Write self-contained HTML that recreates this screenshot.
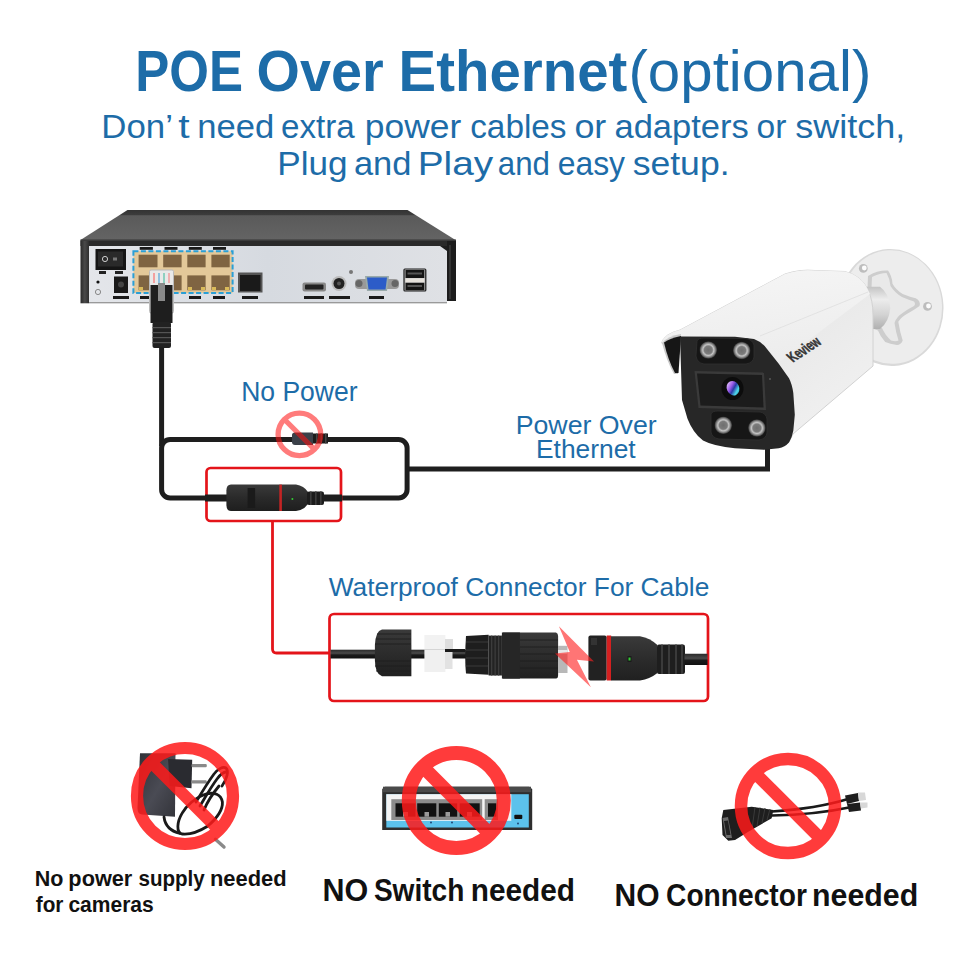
<!DOCTYPE html>
<html><head><meta charset="utf-8">
<style>
html,body{margin:0;padding:0;background:#fff;}
body{width:960px;height:960px;overflow:hidden;position:relative;}
svg{position:absolute;left:0;top:0;}
text{font-family:"Liberation Sans",sans-serif;}
</style></head>
<body>
<svg width="960" height="960" viewBox="0 0 960 960">
<defs>
  <linearGradient id="nvrTop" x1="0" y1="0" x2="0" y2="1">
    <stop offset="0" stop-color="#333"/><stop offset="0.16" stop-color="#3c3c3c"/><stop offset="0.19" stop-color="#5a5a5a"/><stop offset="0.6" stop-color="#5f5f5f"/><stop offset="1" stop-color="#646464"/>
  </linearGradient>
  <linearGradient id="nvrFront" x1="0" y1="0" x2="1" y2="0">
    <stop offset="0" stop-color="#e4e6ea"/><stop offset="0.5" stop-color="#d6dae0"/><stop offset="1" stop-color="#dfe1e5"/>
  </linearGradient>
  <linearGradient id="bezL" x1="0" y1="0" x2="1" y2="0">
    <stop offset="0" stop-color="#2a2a2a"/><stop offset="0.5" stop-color="#4a4a4a"/><stop offset="1" stop-color="#2e2e2e"/>
  </linearGradient>
  <linearGradient id="camTop" x1="0" y1="0" x2="1" y2="1">
    <stop offset="0" stop-color="#f2f2f2"/><stop offset="1" stop-color="#e8e8e8"/>
  </linearGradient>
  <radialGradient id="lens" cx="0.45" cy="0.45" r="0.6">
    <stop offset="0" stop-color="#e0d0ff"/><stop offset="0.35" stop-color="#7a4fd0"/><stop offset="0.7" stop-color="#2a3a8a"/><stop offset="1" stop-color="#111"/>
  </radialGradient>
  <radialGradient id="led" cx="0.5" cy="0.5" r="0.5">
    <stop offset="0" stop-color="#6e6e6e"/><stop offset="0.45" stop-color="#7c7c7c"/><stop offset="0.62" stop-color="#c4c4c4"/><stop offset="0.78" stop-color="#8e8e8e"/><stop offset="0.9" stop-color="#5a5a5a"/><stop offset="1" stop-color="#2a2a2a"/>
  </radialGradient>
</defs>

<!-- ===== TITLE ===== -->

<!-- ===== NVR ===== -->
<polygon points="127.5,210 407.5,210 455.5,240 80.5,240" fill="url(#nvrTop)"/>
<rect x="80.5" y="239.7" width="375.5" height="6.3" fill="#2a2a2a"/>
<rect x="80.5" y="239.7" width="375.5" height="1" fill="#444"/>
<rect x="80.5" y="241" width="8.5" height="62.3" fill="url(#bezL)"/>
<rect x="447" y="241" width="9" height="60" fill="#1c1c1c"/>
<rect x="449" y="245" width="2" height="54" fill="#333"/>
<rect x="89" y="246" width="358" height="57.3" fill="url(#nvrFront)"/>
<polygon points="440,246 447,246 447,251" fill="#1e1e1e"/>
<rect x="89" y="302" width="358" height="1.3" fill="#9a9a9a"/>
<!-- switch -->
<rect x="95.5" y="249" width="30.5" height="21" fill="#151515"/>
<rect x="98" y="251.5" width="25" height="15" fill="#2a2a2a"/>
<circle cx="105" cy="259" r="2.6" fill="none" stroke="#ccc" stroke-width="1"/>
<rect x="113" y="257.5" width="4" height="3" fill="#777"/>
<rect x="99" y="271" width="7" height="3" fill="#222"/><rect x="115" y="271" width="8" height="3" fill="#222"/>
<!-- power jack -->
<rect x="114" y="276.5" width="14" height="16.5" fill="#1a1a1a"/>
<circle cx="121" cy="284.5" r="3" fill="#444"/>
<rect x="113" y="296" width="16" height="3" fill="#1a1a1a"/>
<circle cx="98" cy="282" r="1.6" fill="#111"/>
<circle cx="98" cy="292" r="2.6" fill="none" stroke="#888" stroke-width="1"/>
<!-- ports block -->
<rect x="133.4" y="251.3" width="99.2" height="41.8" fill="#e3c899" stroke="#2a9fd6" stroke-width="2" stroke-dasharray="5 2.5"/>
<g fill="#7f6442">
  <rect x="138.6" y="254.7" width="18.9" height="12.6"/><rect x="163.2" y="254.7" width="18.4" height="12.6"/><rect x="187.3" y="254.7" width="18.3" height="12.6"/><rect x="211.4" y="254.7" width="18.3" height="12.6"/>
  <rect x="138.6" y="275.4" width="18.9" height="14.9"/><rect x="163.2" y="275.4" width="18.4" height="14.9"/><rect x="187.3" y="275.4" width="18.3" height="14.9"/><rect x="211.4" y="275.4" width="18.3" height="14.9"/>
</g>
<g fill="#f0d060" opacity="0.8">
  <rect x="139" y="287" width="4" height="3"/><rect x="153" y="287" width="4" height="3"/><rect x="188" y="287" width="4" height="3"/><rect x="201" y="287" width="4" height="3"/><rect x="212" y="287" width="4" height="3"/><rect x="225" y="287" width="4" height="3"/>
</g>
<g fill="#1a1a1a">
  <rect x="139.7" y="247" width="13.2" height="2.8"/><rect x="164.5" y="247" width="13" height="2.8"/><rect x="188.8" y="247" width="13" height="2.8"/><rect x="213" y="247" width="13" height="2.8"/>
  <rect x="140" y="296" width="12" height="3"/><rect x="189" y="296" width="12" height="3"/><rect x="213" y="296" width="12" height="3"/>
</g>
<!-- LAN -->
<rect x="238" y="272.5" width="24.5" height="20" fill="#555"/>
<rect x="240" y="275" width="20.5" height="16" fill="#1a1a1a"/>
<rect x="242" y="296" width="16" height="3" fill="#1a1a1a"/>
<!-- HDMI -->
<rect x="302.5" y="282.5" width="23.5" height="9" rx="2" fill="#888"/>
<rect x="305" y="284.5" width="18.5" height="5" rx="1" fill="#222"/>
<rect x="304" y="296" width="20" height="3" fill="#1a1a1a"/>
<!-- audio -->
<circle cx="339" cy="283.5" r="7.5" fill="#bbb"/>
<circle cx="339" cy="283.5" r="5.5" fill="#222"/>
<circle cx="339" cy="283.5" r="2" fill="#555"/>
<circle cx="351" cy="272" r="2" fill="#777"/>
<rect x="329" y="296" width="21" height="3" fill="#1a1a1a"/>
<!-- VGA -->
<rect x="355" y="279" width="44" height="10" rx="4" fill="#999"/>
<circle cx="359" cy="283.5" r="3.5" fill="#666"/><circle cx="395" cy="283.5" r="3.5" fill="#666"/>
<polygon points="365,276 389,276 387,291 367,291" fill="#9aa"/>
<polygon points="367,277.5 387,277.5 385.5,289.5 368.5,289.5" fill="#2c5cc8"/>
<rect x="369" y="296" width="15" height="3" fill="#1a1a1a"/>
<!-- USB -->
<rect x="403.4" y="268.5" width="23" height="23" rx="1.5" fill="#1a1a1a"/>
<rect x="404.6" y="269.5" width="20.6" height="21" fill="#bbb"/>
<rect x="405.5" y="270" width="18.8" height="8" fill="#141414"/>
<rect x="405.5" y="282.7" width="18.8" height="7.5" fill="#141414"/>
<rect x="405.5" y="278.3" width="18.8" height="4" fill="#e6e2dc"/>
<rect x="407.5" y="272.5" width="14.5" height="2" fill="#555"/>
<rect x="407.5" y="285" width="14.5" height="2" fill="#555"/>
<!-- RJ45 plug -->
<rect x="149.5" y="270" width="24" height="43" rx="1.5" fill="#e9e9e9" stroke="#bbb" stroke-width="1"/>
<rect x="153" y="273" width="2" height="10" fill="#f3a0a0"/><rect x="158" y="273" width="2" height="10" fill="#8fc0e0"/><rect x="163" y="273" width="2" height="10" fill="#8fd0c0"/><rect x="168" y="273" width="2" height="10" fill="#f0b0b0"/>
<rect x="150.5" y="285" width="22" height="38" fill="#1e1e1e"/>
<rect x="158" y="283" width="7" height="18" fill="#8a8a8a"/>
<rect x="152.5" y="322" width="18.5" height="26" rx="2" fill="#222"/>
<g fill="#555"><rect x="152.5" y="327" width="18.5" height="1.2"/><rect x="152.5" y="332" width="18.5" height="1.2"/><rect x="152.5" y="337" width="18.5" height="1.2"/><rect x="152.5" y="342" width="18.5" height="1.2"/></g>

<!-- ===== LINES ===== -->
<g fill="none" stroke="#1e1e1e" stroke-width="5">
  <line x1="161.6" y1="347" x2="161.6" y2="446"/>
  <rect x="161.6" y="439.5" width="245.5" height="58.5" rx="8.5"/>
  <polyline points="407,469 767.5,469 767.5,446"/>
</g>

<!-- No Power text -->
<!-- small connector on top line -->
<path d="M292,435 Q292,432.5 295,432.5 L313,432.5 L313,445 L295,445 Q292,445 292,442 Z" fill="#3b4049"/>
<rect x="313" y="433.5" width="15" height="10" fill="#1c1c1c"/>
<g fill="#444"><rect x="316" y="433.5" width="1.5" height="10"/><rect x="320.5" y="433.5" width="1.5" height="10"/><rect x="325" y="433.5" width="1.5" height="10"/></g>
<!-- pink prohibition -->
<g opacity="0.55">
<circle cx="299.4" cy="434.4" r="21.3" fill="none" stroke="#ff1010" stroke-width="5.3"/>
<line x1="285" y1="420" x2="314" y2="449" stroke="#ff1010" stroke-width="5.3"/>
</g>

<!-- red box 1 -->
<rect x="206.5" y="468" width="134.5" height="53" rx="4" fill="none" stroke="#e4141a" stroke-width="2.7"/>
<path d="M272.5,521 V649 Q272.5,653 276.5,653 H329" fill="none" stroke="#e4141a" stroke-width="2.8"/>
<!-- connector in box 1 -->
<linearGradient id="conn" x1="0" y1="0" x2="0" y2="1"><stop offset="0" stop-color="#3a3a3a"/><stop offset="0.5" stop-color="#2a2a2a"/><stop offset="1" stop-color="#1e1e1e"/></linearGradient>
<rect x="205" y="494.5" width="22" height="7" fill="#1e1e1e"/>
<path d="M231,484.6 L296,484.6 Q304,486 308,492 L308,504 Q304,510 296,511 L231,511 Q226.4,511 226.4,505 L226.4,490.6 Q226.4,484.6 231,484.6 Z" fill="url(#conn)"/>
<rect x="247.6" y="488" width="7.5" height="20" fill="#1a1a1a"/>
<rect x="279.3" y="484.6" width="2.6" height="26.4" fill="#c42424"/>
<circle cx="292.4" cy="499" r="1" fill="#3c3"/>
<rect x="307" y="491.4" width="17" height="13.6" rx="2" fill="#1c1c1c"/>
<g fill="#3c3c3c"><rect x="310" y="491.4" width="1.6" height="13.6"/><rect x="315" y="491.4" width="1.6" height="13.6"/><rect x="320" y="491.4" width="1.6" height="13.6"/></g>
<rect x="323" y="494.5" width="19" height="7" fill="#1e1e1e"/>

<!-- Power Over Ethernet -->

<!-- ===== CAMERA ===== -->
<!-- mount base plate -->
<ellipse cx="891" cy="307.5" rx="52.5" ry="58.5" transform="rotate(-3 891 307.5)" fill="#d9d9d9"/>
<ellipse cx="891.5" cy="307" rx="50.5" ry="56.8" transform="rotate(-3 891.5 307)" fill="#ededed"/>
<circle cx="863.3" cy="268.4" r="4.4" fill="#bdbdbd"/><circle cx="864.3" cy="268" r="2.4" fill="#fcfcfc"/>
<circle cx="927.5" cy="306.4" r="4.4" fill="#bdbdbd"/><circle cx="928.5" cy="306" r="2.4" fill="#fcfcfc"/>
<!-- star bracket -->
<path d="M868,276 Q878,270 888,270.6 Q892,276 892.5,283.75 Q896,290 902.7,294 Q910,297 915.8,298.3 Q921,301 919.5,306 Q914,310 908.5,313 Q901,317 898.3,321.7 Q900,332 902.7,340.6 Q901,345 896.9,345 Q890,344 885.2,342 Q880,336 878,330.4 L866,326 Z" fill="#cdcdcd"/>
<path d="M872,277 Q880,273 886.5,273 Q890,279 890.5,286 Q895,293 902,297 Q909,300 914,301.5 Q916,304 914,306 Q908,309 904,312 Q896,317 894.5,323 Q896,333 898.5,340.5 Q896,342 891,340.5 Q885,335 882,328 L870,322 Z" fill="#e9e9e9"/>
<!-- arm cylinder -->
<linearGradient id="arm" x1="0" y1="0" x2="0" y2="1"><stop offset="0" stop-color="#c4c4c4"/><stop offset="0.3" stop-color="#ececec"/><stop offset="0.65" stop-color="#d4d4d4"/><stop offset="1" stop-color="#b0b0b0"/></linearGradient>
<path d="M860,286.7 L880,286.7 Q889,293 890.3,308 Q889,322 880,329 L860,329 Z" fill="url(#arm)"/>
<!-- body -->
<linearGradient id="bodyTop" x1="0" y1="0" x2="0.3" y2="1"><stop offset="0" stop-color="#f6f6f6"/><stop offset="1" stop-color="#ededed"/></linearGradient>
<linearGradient id="bodySide" x1="0" y1="0" x2="1" y2="1"><stop offset="0" stop-color="#f2f2f2"/><stop offset="0.5" stop-color="#e9e9e9"/><stop offset="1" stop-color="#f3f3f3"/></linearGradient>
<path d="M661.5,343 Q664,334 680,330 L785,274 Q800,269 815,270.5 L845,271.5 Q862,276 868,290 Q873,300 873,315 L873,366 L793,434 L789,442 L760,350 Z" fill="url(#bodySide)" stroke="#d2d2d2" stroke-width="1"/>
<path d="M661.5,343 Q664,334 680,330 L785,274 Q800,269 815,270.5 L845,271.5 Q862,276 868,290 L870,294 L778,363 Q768,345 754,339 L700,336 Z" fill="url(#bodyTop)"/>
<path d="M760,336 L868,292" stroke="#e2e2e2" stroke-width="1"/>
<!-- hood inner -->
<path d="M662,343 Q668,336 681,334 L678,374 L674,374 Q667,362 662,343 Z" fill="#c8c8c8"/>
<path d="M664,342.5 Q670,338 681,336 L678.5,373 L675,373 Q668,360 664,342.5 Z" fill="#161616"/>
<!-- face -->
<path d="M680,336.5 L735,336.8 L754,339 Q762,342 767,349 L778.75,363.75 L789,378.3 Q792,384 793.3,393 L794.8,414.8 L793.3,430.8 Q792,438 789,442.5 Q785,447 778.75,448.3 L764.2,449.8 L735,448.2 Q714,446.5 703,440.6 Q693,433 687.5,418.75 L682,400 Z" fill="#272727"/>
<!-- top LED recess -->
<path d="M697,341 Q698,338 704,338 L745,338.5 Q752,339 754,345 L754,357 Q753,363 746,364 L704,364 Q697,363 696,356 Z" fill="#161616" stroke="#303030" stroke-width="0.8"/>
<circle cx="708.3" cy="350" r="8.8" fill="url(#led)"/>
<circle cx="741.7" cy="350.5" r="8.8" fill="url(#led)"/>
<!-- lens window -->
<polygon points="694.5,371 764,372.5 766,410 698.5,408" fill="#3a3a3a"/>
<polygon points="697,373.5 762,375 763.5,407.5 700.5,405.5" fill="#1c1c1c"/>
<ellipse cx="732.5" cy="388.5" rx="11" ry="11.5" fill="#0c0c0c"/>
<linearGradient id="gem" x1="0.2" y1="0" x2="0.8" y2="1"><stop offset="0" stop-color="#e6c8ff"/><stop offset="0.35" stop-color="#9a5ae8"/><stop offset="0.55" stop-color="#2a3aa8"/><stop offset="0.8" stop-color="#50d8e8"/><stop offset="1" stop-color="#2aa0c0"/></linearGradient>
<ellipse cx="733" cy="388.2" rx="6.2" ry="7.4" transform="rotate(-25 733 388.2)" fill="url(#gem)"/>
<!-- bottom LED recess -->
<path d="M711,414 Q712,411 718,411 L760,412 Q766,413 767,419 L767,433 Q766,439 759,440 L719,439 Q712,438 711,432 Z" fill="#161616" stroke="#303030" stroke-width="0.8"/>
<circle cx="723.3" cy="425.3" r="8.8" fill="url(#led)"/>
<circle cx="756.9" cy="428" r="8.8" fill="url(#led)"/>
<circle cx="770" cy="379" r="1.1" fill="#555"/>
<!-- Keview -->
<text x="0" y="0" font-size="15" font-weight="bold" fill="#353535" stroke="#353535" stroke-width="0.5" transform="translate(793,362.5) rotate(-33) skewX(14)" textLength="35" lengthAdjust="spacingAndGlyphs" style="text-rendering:geometricPrecision">Keview</text>

<!-- ===== WATERPROOF ===== -->
<rect x="329.5" y="614" width="378.5" height="87" rx="4.5" fill="none" stroke="#e4141a" stroke-width="2.7"/>
<!-- cable -->
<linearGradient id="cab" x1="0" y1="0" x2="0" y2="1"><stop offset="0" stop-color="#2a2a2a"/><stop offset="0.4" stop-color="#4a4a4a"/><stop offset="0.6" stop-color="#1a1a1a"/><stop offset="1" stop-color="#111"/></linearGradient>
<linearGradient id="capG" x1="0" y1="0" x2="0" y2="1"><stop offset="0" stop-color="#3a3a3a"/><stop offset="0.5" stop-color="#2c2c2c"/><stop offset="1" stop-color="#202020"/></linearGradient>
<rect x="330.5" y="649.7" width="46" height="8.8" fill="url(#cab)"/>
<rect x="410" y="649.7" width="56" height="8.8" fill="url(#cab)"/>
<path d="M382,629.4 L411.4,629.4 L411.4,676.25 L382,676.25 Q374.9,674 374.9,660 L374.9,645 Q375.4,631 382,629.4 Z" fill="url(#capG)"/>
<g stroke="#1c1c1c" stroke-width="0.8"><line x1="377" y1="634" x2="411" y2="634"/><line x1="376" y1="639" x2="411" y2="639"/><line x1="375" y1="644" x2="411" y2="644"/><line x1="375" y1="661" x2="411" y2="661"/><line x1="375" y1="666" x2="411" y2="666"/><line x1="376" y1="671" x2="411" y2="671"/></g>
<rect x="424.4" y="635" width="21" height="14.2" fill="#f2f2f2"/>
<rect x="445" y="639" width="8" height="10" fill="#dedede"/>
<rect x="424.4" y="649.7" width="21" height="22.3" fill="#f0f0f0"/>
<rect x="445" y="651" width="7.5" height="18" fill="#e2e2e2"/>
<rect x="445" y="649" width="20" height="3" fill="#1a1a1a"/>
<path d="M466,636 L488.6,634.8 L488.6,674.7 L466,673.5 Q464.4,660 466,636 Z" fill="#1e1e1e"/>
<g stroke="#3a3a3a" stroke-width="1"><line x1="466" y1="642" x2="488" y2="642"/><line x1="466" y1="650" x2="488" y2="650"/><line x1="466" y1="658" x2="488" y2="658"/><line x1="466" y1="666" x2="488" y2="666"/></g>
<rect x="488.6" y="635.6" width="13.3" height="39.9" fill="#232323"/>
<g fill="#3c3c3c"><rect x="491" y="635.6" width="1.3" height="39.9"/><rect x="494.5" y="635.6" width="1.3" height="39.9"/><rect x="498" y="635.6" width="1.3" height="39.9"/></g>
<path d="M503,632.5 L556,632.5 Q558.1,633 558.1,636 L558.1,675 Q558.1,678.6 556,678.6 L503,678.6 Q501.9,678 501.9,675 L501.9,636 Q501.9,633 503,632.5 Z" fill="url(#capG)"/>
<rect x="501.9" y="632.5" width="18" height="46.1" fill="#262626"/>
<g stroke="#1c1c1c" stroke-width="0.8"><line x1="520" y1="640" x2="558" y2="640"/><line x1="520" y1="647" x2="558" y2="647"/><line x1="520" y1="654" x2="558" y2="654"/><line x1="520" y1="661" x2="558" y2="661"/><line x1="520" y1="668" x2="558" y2="668"/></g>
<rect x="558" y="645.8" width="9.5" height="27.2" fill="#b8b8b8"/>
<rect x="558" y="650" width="9.5" height="4" fill="#e8e8e8"/>
<rect x="588.4" y="635.5" width="18.3" height="45" rx="2" fill="#222"/>
<rect x="591" y="638" width="6" height="7" fill="#333"/>
<rect x="606.7" y="635.5" width="4.5" height="45" fill="#d42020"/>
<path d="M611,636.2 L640,636.2 Q650,638 657.4,645 L657.4,673 Q650,679 640,680.5 L611,680.5 Z" fill="url(#capG)"/>
<rect x="627.5" y="656" width="4" height="6" fill="#1a1a1a"/><rect x="628.5" y="657.5" width="2" height="3" fill="#3c3"/>
<rect x="657" y="644.6" width="28" height="29.4" rx="2" fill="#1e1e1e"/>
<g fill="#3a3a3a"><rect x="661" y="644.6" width="2" height="29.4"/><rect x="668" y="644.6" width="2" height="29.4"/><rect x="675" y="644.6" width="2" height="29.4"/><rect x="681" y="644.6" width="2" height="29.4"/></g>
<rect x="684.5" y="653.75" width="23" height="11.25" fill="url(#cab)"/>
<polygon points="558.9,626.25 594,661.4 576.9,659.8 590.9,687.2 555,653.6 569.8,652" fill="#ff2020" opacity="0.62"/>

<!-- ===== BOTTOM ICONS ===== -->
<!-- power adapter -->
<linearGradient id="adp" x1="0" y1="0" x2="1" y2="1"><stop offset="0" stop-color="#2f3036"/><stop offset="0.55" stop-color="#4a4b54"/><stop offset="1" stop-color="#33343a"/></linearGradient>
<path d="M140,753.2 L175.5,753.2 L175,816.7 L142,814.5 Q137.5,814 137.5,808 Z" fill="url(#adp)"/>
<path d="M168.1,759 L192.2,759.8 L191.5,788.2 L169.6,786 Z" fill="#2a2b30"/>
<rect x="191.5" y="764" width="15.3" height="3.2" rx="1.2" fill="#8a8a8a"/>
<rect x="191.5" y="780.2" width="15.3" height="3.2" rx="1.2" fill="#8a8a8a"/>
<g fill="none" stroke="#1a1a1a" stroke-width="2.8" stroke-linecap="round">
  <path d="M164,817 C165,825 170,831 180,833.5"/>
  <path d="M182,834 C176,832 177,822 182,813.4 C186,806 196,797 206,794 C214,792 221,794 222.4,802 C223,810 216,819 207.5,826.3 C200,831 191,835 182,834 Z"/>
  <path d="M196,802 C202,792 208,782 214,774 C218,769 223,766 226,768 C229,771 227,779 222,786"/>
  <path d="M200,806 C206,796 211,787 217,779 C220,775 224,772 226,772"/>
  <path d="M204,810 C208,800 214,792 219,786"/>
</g>
<line x1="215.4" y1="839.2" x2="224" y2="847" stroke="#8a8a8a" stroke-width="3.4" stroke-linecap="round"/>
<g opacity="0.85">
<circle cx="185" cy="796" r="48" fill="none" stroke="#ff1a1a" stroke-width="12.2"/>
<line x1="149" y1="760" x2="221" y2="832" stroke="#ff1a1a" stroke-width="12"/>
</g>

<!-- switch -->
<path d="M385,786.7 L529,786.7 L532.2,789 L532.2,830 L382.2,830 L382.2,789 Z" fill="#2e2e2e"/>
<rect x="383" y="786.7" width="148" height="5.5" fill="#4a4a4a"/>
<rect x="386.3" y="794.2" width="142.5" height="33.3" fill="#5cc2ec"/>
<rect x="386.3" y="794.2" width="125" height="26.6" fill="#f4f4f4"/>
<rect x="391.3" y="799.2" width="90.9" height="20.8" fill="#8c8c8c"/>
<rect x="484.7" y="799.2" width="13.3" height="20.8" fill="#8c8c8c"/>
<g fill="#121212"><rect x="395.5" y="803.3" width="20" height="13.4"/><rect x="417.2" y="803.3" width="19.1" height="13.4"/><rect x="438.8" y="803.3" width="18.4" height="13.4"/><rect x="459.7" y="803.3" width="20" height="13.4"/><rect x="488" y="803.3" width="8.3" height="13.4"/></g>
<g fill="#9a9a9a"><rect x="403" y="812" width="5" height="4.7"/><rect x="424.5" y="812" width="4.5" height="4.7"/><rect x="445.5" y="812" width="4.5" height="4.7"/><rect x="467" y="812" width="5" height="4.7"/></g>
<g fill="#1a3a6a"><circle cx="431" cy="822.5" r="0.9"/><circle cx="452" cy="822.5" r="0.9"/><circle cx="518" cy="823.5" r="0.9"/></g>
<rect x="514.3" y="814.7" width="8" height="4.4" rx="1" fill="#111"/>
<g opacity="0.85">
<circle cx="456.3" cy="800.5" r="47.5" fill="none" stroke="#ff1a1a" stroke-width="14"/>
<line x1="422" y1="766" x2="490.5" y2="834.5" stroke="#ff1a1a" stroke-width="13.5"/>
</g>

<!-- splitter -->
<g fill="none" stroke="#1a1a1a" stroke-width="2.6">
  <path d="M772,811.5 C795,810 825,806 848,799"/>
  <path d="M772,815.5 C800,815 828,812 849,807.5"/>
</g>
<path d="M723.3,810 L751.7,806.7 L773.3,810 L771.7,818.3 L748.3,831.7 L735,840 L728.3,840.8 L722.5,835 L721.7,818.3 Z" fill="#1e1e1e"/>
<g stroke="#3a3a3a" stroke-width="1"><line x1="755" y1="807" x2="752" y2="829"/><line x1="760" y1="807.5" x2="757" y2="826"/><line x1="765" y1="808" x2="762" y2="823"/><line x1="770" y1="809" x2="767" y2="820"/></g>
<path d="M722.5,818 L728,817 L732,838 L726,838 Z" fill="#6a6a6a"/>
<path d="M724,821 L728,820.5 L730.5,835 L726.5,835 Z" fill="#222"/>
<path d="M845,795.5 L858,793 L859,801 L847,804 Z" fill="#1e1e1e"/>
<path d="M858,792.5 L865,792.5 L866,800 L859,801 Z" fill="#d8d8d8"/>
<path d="M847,804 L860,802.5 L861,810.5 L849,812 Z" fill="#1e1e1e"/>
<path d="M860,802.5 L867.5,802.5 L867.5,807.5 L861,808.5 Z" fill="#d8d8d8"/>
<g opacity="0.85">
<circle cx="788" cy="806" r="47" fill="none" stroke="#ff1a1a" stroke-width="12.5"/>
<line x1="754" y1="772" x2="822" y2="840" stroke="#ff1a1a" stroke-width="12.5"/>
</g>
<!-- TEXTS -->
<text x="135.23" y="90.75" font-size="58" font-weight="bold" fill="#1d6ca8" textLength="107.77" lengthAdjust="spacingAndGlyphs">POE</text>
<text x="256.58" y="90.75" font-size="58" font-weight="bold" fill="#1d6ca8" textLength="127.08" lengthAdjust="spacingAndGlyphs">Over</text>
<text x="398.61" y="90.75" font-size="58" font-weight="bold" fill="#1d6ca8" textLength="228.65" lengthAdjust="spacingAndGlyphs">Ethernet</text>
<text x="628.48" y="90.75" font-size="58" fill="#1d6ca8" textLength="242.85" lengthAdjust="spacingAndGlyphs">(optional)</text>
<text x="101.31" y="137.5" font-size="32.7" fill="#1d6ca8" textLength="71.57" lengthAdjust="spacingAndGlyphs">Don’</text>
<text x="178.25" y="137.5" font-size="32.7" fill="#1d6ca8" textLength="11.37" lengthAdjust="spacingAndGlyphs">t</text>
<text x="197.38" y="137.5" font-size="32.7" fill="#1d6ca8" textLength="76.93" lengthAdjust="spacingAndGlyphs">need</text>
<text x="280.99" y="137.5" font-size="32.7" fill="#1d6ca8" textLength="73.68" lengthAdjust="spacingAndGlyphs">extra</text>
<text x="364.83" y="137.5" font-size="32.7" fill="#1d6ca8" textLength="96.45" lengthAdjust="spacingAndGlyphs">power</text>
<text x="470.23" y="137.5" font-size="32.7" fill="#1d6ca8" textLength="96.3" lengthAdjust="spacingAndGlyphs">cables</text>
<text x="574.4" y="137.5" font-size="32.7" fill="#1d6ca8" textLength="31.93" lengthAdjust="spacingAndGlyphs">or</text>
<text x="614.44" y="137.5" font-size="32.7" fill="#1d6ca8" textLength="134.34" lengthAdjust="spacingAndGlyphs">adapters</text>
<text x="756.47" y="137.5" font-size="32.7" fill="#1d6ca8" textLength="29.86" lengthAdjust="spacingAndGlyphs">or</text>
<text x="795.15" y="137.5" font-size="32.7" fill="#1d6ca8" textLength="110.05" lengthAdjust="spacingAndGlyphs">switch,</text>
<text x="277.27" y="175" font-size="32.7" fill="#1d6ca8" textLength="70.35" lengthAdjust="spacingAndGlyphs">Plug</text>
<text x="353.95" y="175" font-size="32.7" fill="#1d6ca8" textLength="57.49" lengthAdjust="spacingAndGlyphs">and</text>
<text x="417.69" y="175" font-size="32.7" fill="#1d6ca8" textLength="75.52" lengthAdjust="spacingAndGlyphs">Play</text>
<text x="497.79" y="175" font-size="32.7" fill="#1d6ca8" textLength="52.14" lengthAdjust="spacingAndGlyphs">and</text>
<text x="557.78" y="175" font-size="32.7" fill="#1d6ca8" textLength="67.27" lengthAdjust="spacingAndGlyphs">easy</text>
<text x="632.66" y="175" font-size="32.7" fill="#1d6ca8" textLength="96.9" lengthAdjust="spacingAndGlyphs">setup.</text>
<text x="241.17" y="400.6" font-size="27.5" fill="#1d6ca8" textLength="116.45" lengthAdjust="spacingAndGlyphs">No Power</text>
<text x="515.68" y="434.2" font-size="26.5" fill="#1d6ca8" textLength="141.03" lengthAdjust="spacingAndGlyphs">Power Over</text>
<text x="536.01" y="458.1" font-size="26.5" fill="#1d6ca8" textLength="99.68" lengthAdjust="spacingAndGlyphs">Ethernet</text>
<text x="328.75" y="596.25" font-size="26.6" fill="#1d6ca8" textLength="380.54" lengthAdjust="spacingAndGlyphs">Waterproof Connector For Cable</text>
<text x="34.8" y="885.7" font-size="21.5" font-weight="bold" fill="#111" textLength="28.67" lengthAdjust="spacingAndGlyphs">No</text>
<text x="68.39" y="885.7" font-size="21.5" font-weight="bold" fill="#111" textLength="63.94" lengthAdjust="spacingAndGlyphs">power</text>
<text x="138.44" y="885.7" font-size="21.5" font-weight="bold" fill="#111" textLength="66.34" lengthAdjust="spacingAndGlyphs">supply</text>
<text x="209.98" y="885.7" font-size="21.5" font-weight="bold" fill="#111" textLength="76.72" lengthAdjust="spacingAndGlyphs">needed</text>
<text x="35.8" y="912.4" font-size="21.5" font-weight="bold" fill="#111" textLength="27.65" lengthAdjust="spacingAndGlyphs">for</text>
<text x="68.42" y="912.4" font-size="21.5" font-weight="bold" fill="#111" textLength="85.33" lengthAdjust="spacingAndGlyphs">cameras</text>
<text x="322.5" y="901.2" font-size="30.5" font-weight="bold" fill="#111" textLength="45.75" lengthAdjust="spacingAndGlyphs">NO</text>
<text x="373.88" y="901.2" font-size="30.5" font-weight="bold" fill="#111" textLength="90.52" lengthAdjust="spacingAndGlyphs">Switch</text>
<text x="470.75" y="901.2" font-size="30.5" font-weight="bold" fill="#111" textLength="104.29" lengthAdjust="spacingAndGlyphs">needed</text>
<text x="614.57" y="905.5" font-size="31" font-weight="bold" fill="#111" textLength="44.99" lengthAdjust="spacingAndGlyphs">NO</text>
<text x="666.09" y="905.5" font-size="31" font-weight="bold" fill="#111" textLength="140.81" lengthAdjust="spacingAndGlyphs">Connector</text>
<text x="812.04" y="905.5" font-size="31" font-weight="bold" fill="#111" textLength="106.24" lengthAdjust="spacingAndGlyphs">needed</text>
<!-- /TEXTS -->
</svg>
</body></html>
